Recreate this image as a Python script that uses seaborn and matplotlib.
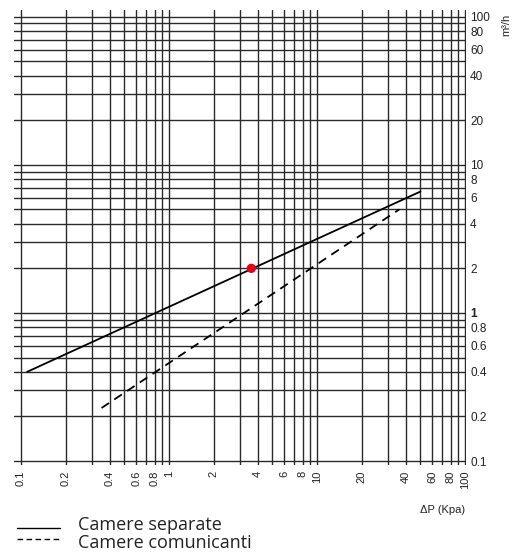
import numpy as np
import pandas as pd
import matplotlib
matplotlib.use("Agg")
import matplotlib.pyplot as plt
import seaborn as sns

# Values (delta P in kPa, flow in m3/h)
dp_separate = [0.11, 50]
q_separate = [0.4, 6.6]
dp_comunic = [0.35, 36]
q_comunic = [0.228, 5.0]
point_dp = [3.6]
point_q = [2.0]

x_labels = [0.1, 0.2, 0.4, 0.6, 0.8, 1, 2, 4, 6, 8, 10, 20, 40, 60, 80, 100]
x_minor = [0.3, 0.5, 0.7, 0.9, 3, 5, 7, 9, 30, 50, 70, 90]
y_labels = [0.1, 0.2, 0.4, 0.6, 0.8, 1, 2, 4, 6, 8, 10, 20, 40, 60, 80, 100]
y_minor = [0.3, 0.5, 0.7, 0.9, 3, 5, 7, 9, 30, 50, 70, 90]

sns.set_style("white")
plt.rcParams['font.family'] = ['Liberation Sans', 'DejaVu Sans']

df = pd.DataFrame({
    "dp": dp_separate + dp_comunic,
    "q": q_separate + q_comunic,
    "serie": ["Camere separate"] * len(dp_separate) + ["Camere comunicanti"] * len(dp_comunic),
})

fig = plt.figure(figsize=(5.12, 5.56), dpi=100)
ax = fig.add_axes([14 / 512, 1 - 465 / 556, (466 - 14) / 512, (465 - 10) / 556])
ax.set_xscale("log")
ax.set_yscale("log")
ax.set_xlim(0.0897, 101.6)
ax.set_ylim(0.094, 111)

sns.lineplot(data=df, x="dp", y="q", style="serie", color="black", linewidth=1.3,
             dashes={"Camere separate": "", "Camere comunicanti": (5, 3.5)},
             sort=False, ax=ax, legend=False)
sns.scatterplot(x=point_dp, y=point_q, color="#e3001b", s=45, edgecolor="none", ax=ax, zorder=5)

ax.set_xticks(x_labels)
ax.set_xticks(x_minor, minor=True)
ax.set_xticklabels([f"{v:g}" for v in x_labels], rotation=90, fontsize=8, color="#222222")
ax.set_yticks(y_labels)
ax.set_yticks(y_minor, minor=True)
ax.set_yticklabels([f"{v:g}" for v in y_labels], fontsize=8.5, color="#222222")
ax.yaxis.tick_right()
for lab in ax.get_yticklabels():
    if lab.get_text() == "1":
        lab.set_fontweight("bold")
ax.tick_params(which="both", length=0, pad=4)
ax.tick_params(axis="y", pad=3)
ax.grid(which="both", color="#2a2a2a", linewidth=1.0)
for s in ax.spines.values():
    s.set_visible(False)
ax.set_xlabel("")
ax.set_ylabel("")

fig.text(0.988, 0.975, "m³/h", rotation=90, ha="center", va="top", fontsize=8, color="#222222")
fig.text(465 / 512, 1 - 510 / 556, "ΔP (Kpa)", ha="right", va="center", fontsize=8, color="#222222")

# legend below the plot
lx = [17, 60]
fig.add_artist(plt.Line2D([v / 512 for v in lx], [1 - 528 / 556] * 2, color="black", lw=1.0))
fig.add_artist(plt.Line2D([v / 512 for v in lx], [1 - 538.5 / 556] * 2, color="black", lw=1.0,
                          dashes=(4, 2.5)))
fig.text(78 / 512, 1 - 525 / 556, "Camere separate", fontsize=13, family="Open Sans",
         va="center", color="#222222")
fig.text(78 / 512, 1 - 543 / 556, "Camere comunicanti", fontsize=13, family="Open Sans",
         va="center", color="#222222")

fig.savefig("out.png", dpi=100)
